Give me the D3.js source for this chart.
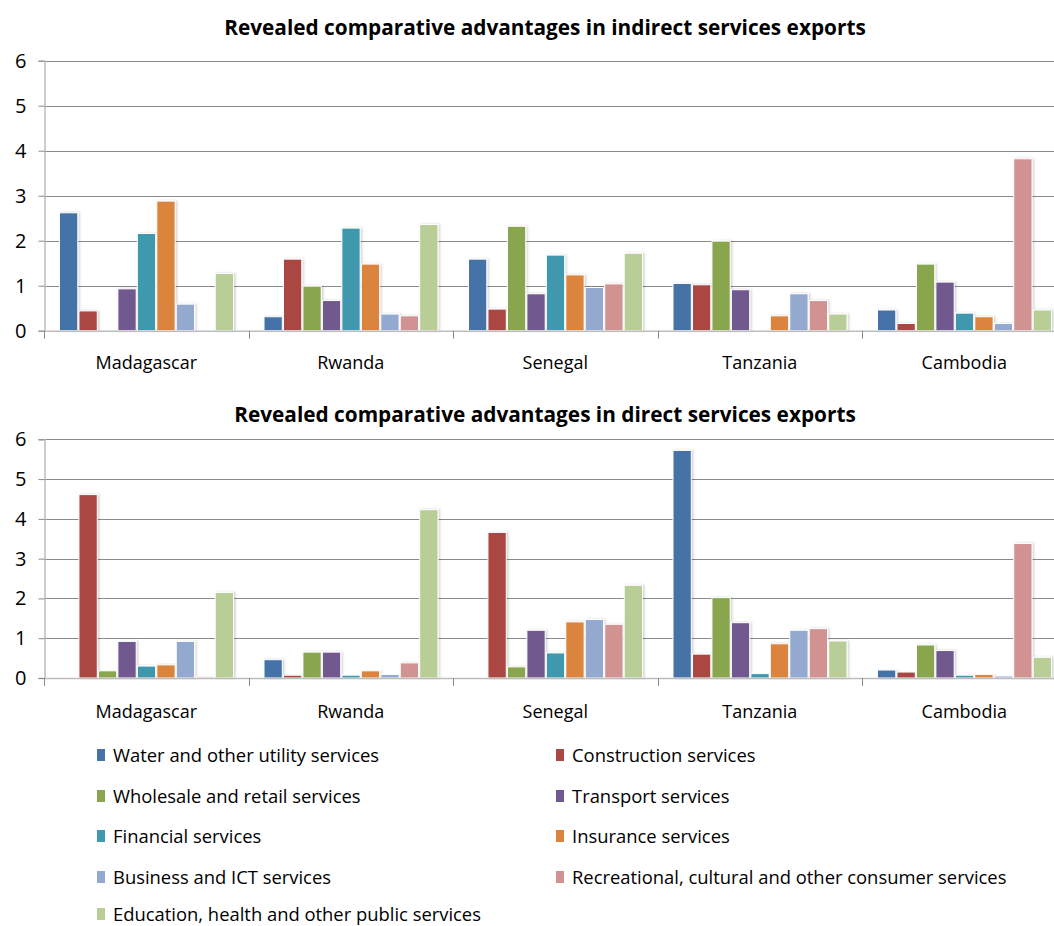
<!DOCTYPE html>
<html><head><meta charset="utf-8">
<script src="https://cdn.jsdelivr.net/npm/d3@7"></script>
<style>
html,body{margin:0;padding:0;background:#fff;overflow:hidden}
svg{display:block;font-family:"Open Sans",Lato,sans-serif}
</style></head><body>
<svg id="c" width="1054" height="926"></svg>
<script>
const countries = ["Madagascar","Rwanda","Senegal","Tanzania","Cambodia"];
const seriesNames = ["Water and other utility services","Construction services","Wholesale and retail services","Transport services","Financial services","Insurance services","Business and ICT services","Recreational, cultural and other consumer services","Education, health and other public services"];
const colors = ["#4572A7","#AA4643","#89A54E","#71588F","#4198AF","#DB843D","#93A9CF","#D19392","#B9CD96"];
const yTicks = [0,1,2,3,4,5,6];
// indirect exports: rows = series, columns = countries
const indirectWater      = [2.62,0.31,1.59,1.05,0.46];
const indirectConstr     = [0.44,1.59,0.48,1.02,0.16];
const indirectWholesale  = [0,0.99,2.32,1.99,1.48];
const indirectTransport  = [0.93,0.67,0.82,0.91,1.08];
const indirectFinancial  = [2.16,2.28,1.68,0,0.39];
const indirectInsurance  = [2.88,1.48,1.24,0.33,0.31];
const indirectBusiness   = [0.59,0.37,0.96,0.82,0.16];
const indirectRecreation = [0,0.33,1.04,0.67,3.82];
const indirectEducation  = [1.27,2.36,1.72,0.37,0.46];
// direct exports
const directWater      = [0,0.46,0,5.72,0.20];
const directConstr     = [4.61,0.07,3.66,0.60,0.15];
const directWholesale  = [0.18,0.65,0.28,2.02,0.83];
const directTransport  = [0.92,0.65,1.20,1.39,0.69];
const directFinancial  = [0.30,0.07,0.63,0.11,0.07];
const directInsurance  = [0.33,0.18,1.41,0.86,0.09];
const directBusiness   = [0.92,0.09,1.47,1.20,0.05];
const directRecreation = [0.03,0.38,1.35,1.24,3.38];
const directEducation  = [2.15,4.23,2.33,0.93,0.52];

const indirect = [indirectWater,indirectConstr,indirectWholesale,indirectTransport,indirectFinancial,indirectInsurance,indirectBusiness,indirectRecreation,indirectEducation];
const direct = [directWater,directConstr,directWholesale,directTransport,directFinancial,directInsurance,directBusiness,directRecreation,directEducation];

const svg = d3.select("#c");
const x0 = d3.scaleBand().domain(countries).range([44,1066.5]).padding(0);
const x1 = d3.scaleBand().domain(seriesNames).range([15.5, x0.bandwidth()-15]).paddingInner(0.06).paddingOuter(0);

function panel(data, top, bottom, title, titleY, labelY){
  const y = d3.scaleLinear().domain([0,6]).range([bottom, top]);
  const g = svg.append("g");
  g.append("text").attr("x",545).attr("y",titleY).attr("text-anchor","middle")
    .attr("font-weight","bold").attr("font-size",20.8).attr("fill","#000").text(title);
  // gridlines
  g.append("g").selectAll("line").data(yTicks.filter(d=>d>0)).join("line")
    .attr("x1",44).attr("x2",1066).attr("y1",d=>Math.round(y(d))+0.5).attr("y2",d=>Math.round(y(d))+0.5)
    .attr("stroke","#8a8a8a").attr("stroke-width",1);
  // y axis
  const ya = d3.axisLeft(y).tickValues(yTicks).tickFormat(d3.format("d")).tickSize(6).tickPadding(12);
  const yg = g.append("g").attr("transform","translate(44.5,0)").call(ya);
  yg.select(".domain").attr("stroke","#bdbdbd").attr("stroke-width",1.5);
  yg.selectAll(".tick line").attr("stroke","#8a8a8a");
  yg.selectAll(".tick text").attr("font-size",20).attr("fill","#000").attr("font-family","'Open Sans',sans-serif");
  // bars
  const cg = g.append("g").selectAll("g").data(countries).join("g")
    .attr("transform",c=>`translate(${x0(c)},0)`);
  cg.selectAll("rect").data((c,ci)=>seriesNames.map((s,si)=>({s,si,v:data[si][ci]})).filter(d=>d.v>0))
    .join("rect")
    .attr("x",d=>x1(d.s)).attr("width",x1.bandwidth())
    .attr("y",d=>y(d.v)).attr("height",d=>y(0)-y(d.v))
    .attr("fill",d=>colors[d.si]).attr("stroke","#fff").attr("stroke-width",1)
    .attr("filter","url(#sh)");
  // x axis
  const xg = g.append("g").attr("transform",`translate(0,${y(0)})`);
  xg.append("line").attr("x1",44).attr("x2",1066).attr("y1",0.5).attr("y2",0.5).attr("stroke","#bdbdbd").attr("stroke-width",1.5);
  xg.selectAll("line.t").data(d3.range(6)).join("line").attr("class","t")
    .attr("x1",i=>Math.round(44+i*x0.bandwidth())+0.5).attr("x2",i=>Math.round(44+i*x0.bandwidth())+0.5)
    .attr("y1",0).attr("y2",8).attr("stroke","#8a8a8a");
  g.append("g").selectAll("text").data(countries).join("text")
    .attr("x",c=>x0(c)+x0.bandwidth()/2).attr("y",labelY).attr("text-anchor","middle")
    .attr("font-size",18).attr("fill","#000").text(c=>c);
}
const defs = svg.append("defs");
const f = defs.append("filter").attr("id","sh").attr("x","-20%").attr("y","-10%").attr("width","150%").attr("height","130%");
f.append("feDropShadow").attr("dx",1.5).attr("dy",0).attr("stdDeviation",1).attr("flood-color","#000").attr("flood-opacity",0.18);

panel(indirect, 60.7, 330.7, "Revealed comparative advantages in indirect services exports", 35, 369);
panel(direct, 439.3, 678, "Revealed comparative advantages in direct services exports", 422, 718);

// legend
const lg = svg.append("g");
const items = lg.selectAll("g").data(seriesNames).join("g")
  .attr("transform",(d,i)=>`translate(${i%2===0?97:556},${[756,797,837,878,915][Math.floor(i/2)]})`);
items.append("rect").attr("x",0).attr("y",-7).attr("width",8).attr("height",12).attr("fill",(d,i)=>colors[i]);
items.append("text").attr("x",16).attr("y",6).attr("font-size",18.4).attr("fill","#000").text(d=>d);
</script>
</body></html>
